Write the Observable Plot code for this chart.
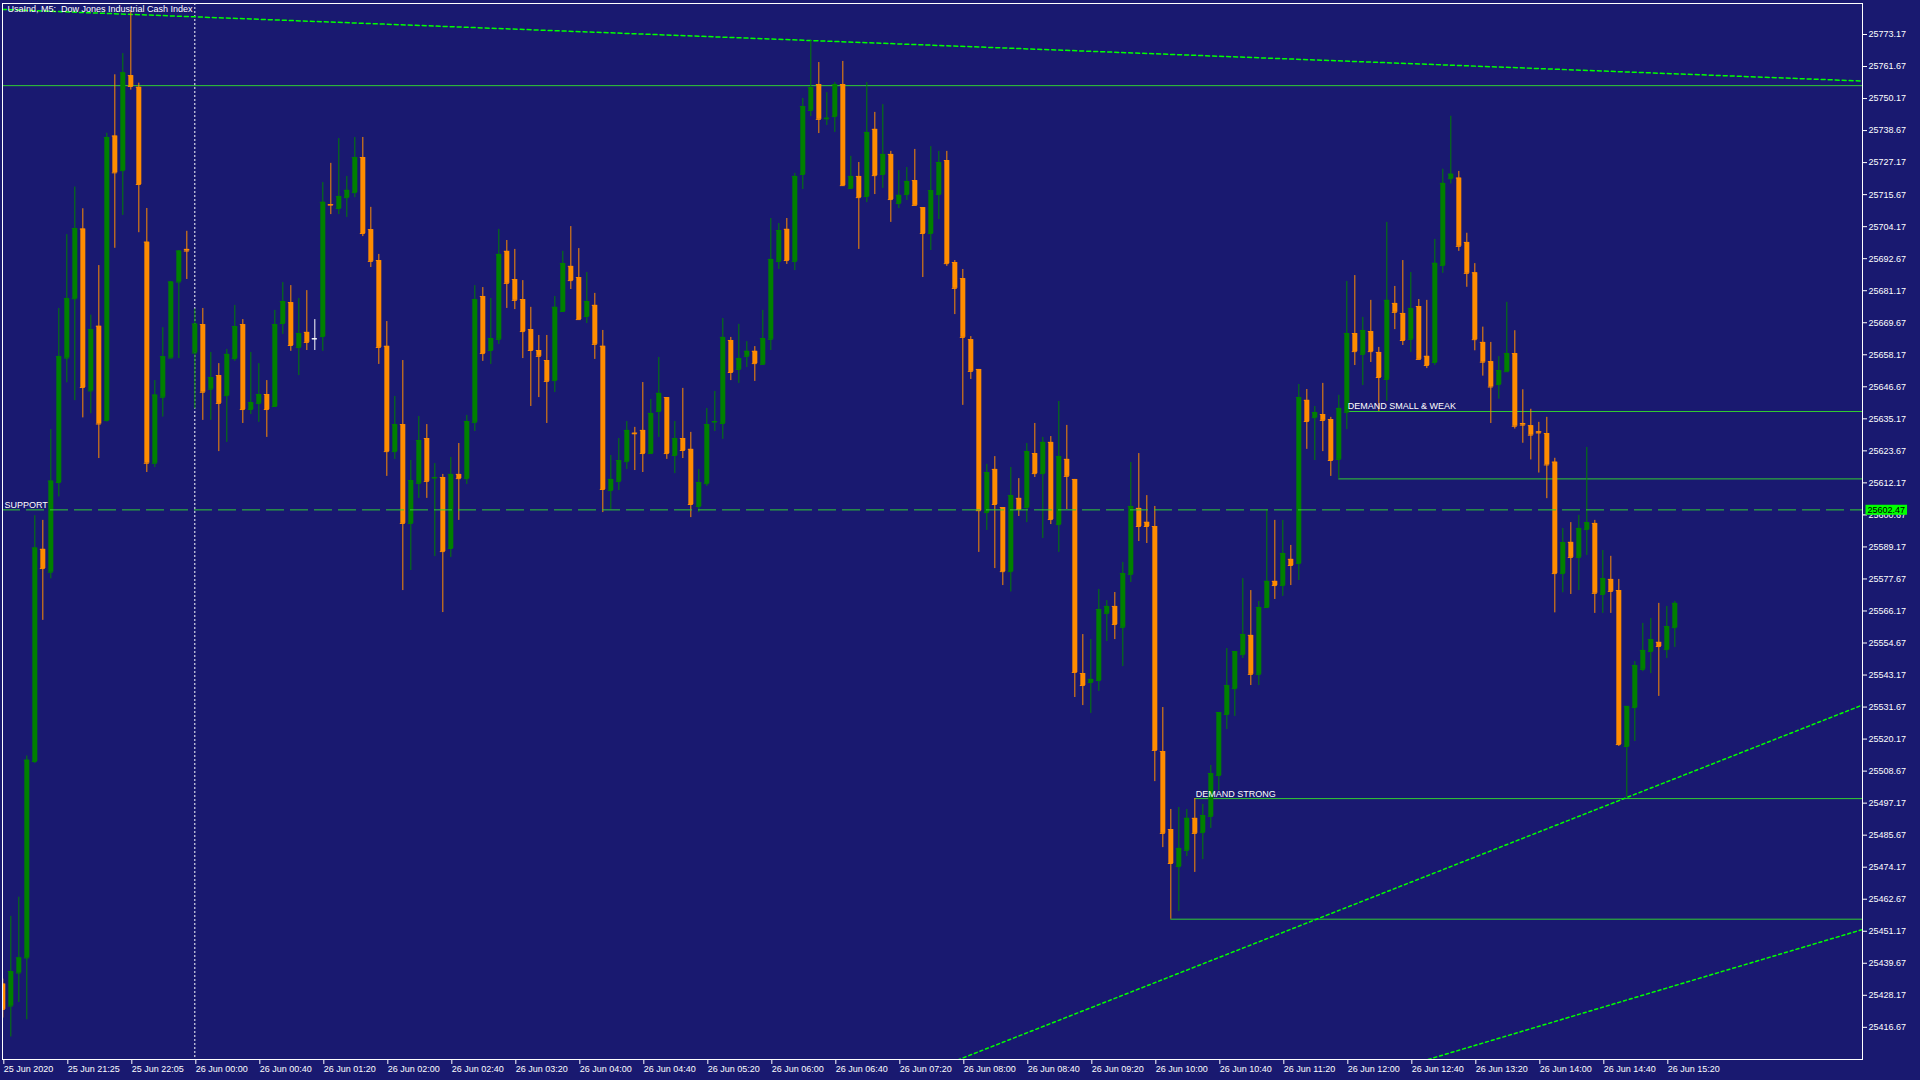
<!DOCTYPE html>
<html><head><meta charset="utf-8">
<script src="https://cdn.jsdelivr.net/npm/d3@7"></script>
<script src="https://cdn.jsdelivr.net/npm/@observablehq/plot@0.6"></script>
<style>
html,body{margin:0;padding:0;background:#191970;overflow:hidden;}
#chart svg{display:block;}
</style></head><body><div id="chart"></div>
<script>
// ---- data (M5 candles, index 0..209) ----
const opens = [25432.2,25424.3,25436.2,25441.6,25512.1,25588.3,25580.1,25612.3,25657.0,25678.3,
25703.3,25645.2,25668.4,25634.6,25736.7,25724.3,25758.4,25754.2,25698.6,25619.2,
25642.9,25657.0,25684.3,25696.0,25658.8,25669.0,25645.8,25650.7,25643.5,25656.8,
25669.0,25638.5,25640.7,25643.9,25639.6,25669.4,25676.9,25660.8,25666.2,25663.9,
25664.7,25712.1,25710.7,25714.6,25716.4,25729.0,25703.1,25692.0,25661.2,25623.4,
25633.1,25597.6,25612.0,25628.1,25613.9,25614.1,25588.6,25615.2,25613.7,25633.9,
25679.1,25659.7,25663.7,25695.3,25685.2,25678.0,25667.2,25659.7,25656.1,25648.9,
25673.7,25689.9,25685.9,25671.9,25675.9,25661.2,25609.4,25612.7,25619.8,25630.0,
25631.0,25622.7,25637.8,25642.8,25622.0,25628.1,25624.2,25603.7,25611.9,25634.0,
25633.5,25663.3,25652.9,25657.6,25659.4,25654.7,25663.7,25691.7,25703.2,25691.7,
25722.9,25745.9,25755.2,25742.9,25743.7,25755.2,25717.9,25722.2,25715.0,25739.1,
25722.9,25730.1,25712.5,25715.7,25720.7,25711.0,25701.7,25715.7,25727.9,25691.3,
25685.5,25663.6,25652.9,25601.5,25617.0,25603.3,25580.3,25606.6,25603.3,25622.7,
25615.5,25626.7,25597.2,25620.6,25613.4,25543.7,25540.5,25541.2,25565.3,25567.8,
25560.3,25579.3,25603.0,25598.0,25596.5,25515.7,25487.7,25474.4,25480.2,25491.7,
25486.6,25492.4,25507.1,25529.0,25538.3,25550.5,25557.4,25543.4,25567.4,25576.8,
25575.3,25584.7,25583.2,25641.8,25635.6,25636.7,25634.9,25620.6,25637.5,25665.8,
25658.3,25666.5,25659.0,25649.3,25676.6,25673.0,25663.7,25675.5,25657.6,25655.4,
25690.2,25721.4,25721.6,25698.5,25687.6,25662.6,25655.7,25647.5,25652.1,25658.6,
25633.5,25632.7,25630.5,25629.9,25619.6,25579.6,25590.8,25585.4,25595.4,25597.6,
25572.1,25577.5,25573.5,25517.5,25531.5,25545.2,25551.6,25554.9,25552.3,25560.2];
const highs = [25434.0,25456.5,25463.4,25514.1,25600.4,25598.7,25631.3,25674.8,25701.3,25718.4,
25710.6,25672.4,25690.2,25737.7,25758.7,25766.3,25781.7,25755.7,25710.7,25648.9,
25667.9,25684.5,25695.6,25702.5,25674.6,25674.8,25659.0,25655.0,25660.1,25675.9,
25670.8,25659.0,25655.0,25648.9,25674.1,25684.1,25683.0,25678.4,25681.2,25670.8,
25720.0,25726.9,25735.8,25722.2,25736.2,25736.2,25711.1,25694.2,25670.1,25643.2,
25656.1,25620.2,25636.0,25633.1,25619.1,25615.2,25621.3,25626.3,25636.4,25683.0,
25682.3,25678.4,25703.2,25699.2,25696.0,25684.8,25675.2,25665.1,25665.1,25679.1,
25695.3,25704.2,25696.3,25687.7,25680.2,25666.9,25622.0,25628.1,25634.2,25632.1,
25648.2,25642.1,25657.2,25642.8,25634.2,25646.1,25630.3,25617.0,25638.9,25645.0,
25671.2,25664.4,25669.1,25662.9,25661.1,25674.1,25707.1,25705.3,25707.1,25723.3,
25750.2,25771.0,25763.1,25752.3,25755.9,25763.5,25729.4,25727.2,25755.9,25745.2,
25748.0,25731.2,25724.3,25725.4,25731.9,25711.0,25732.9,25731.2,25731.2,25692.0,
25688.8,25664.7,25652.9,25618.8,25621.6,25603.3,25617.7,25613.7,25626.3,25633.5,
25628.5,25628.8,25641.4,25632.8,25613.4,25557.7,25555.9,25573.9,25569.9,25572.8,
25583.6,25619.5,25622.7,25607.6,25603.7,25531.5,25494.9,25495.6,25494.9,25498.8,
25496.7,25510.7,25529.7,25552.7,25551.6,25577.8,25573.5,25569.6,25602.6,25598.7,
25598.7,25589.7,25647.5,25645.7,25639.6,25647.9,25635.7,25643.6,25684.5,25686.6,
25671.6,25677.7,25660.8,25705.7,25682.7,25692.0,25687.7,25678.0,25677.7,25699.6,
25724.8,25743.8,25724.0,25701.8,25690.9,25668.1,25662.6,25657.5,25677.0,25666.8,
25645.6,25638.6,25633.9,25635.7,25621.0,25595.8,25597.9,25600.5,25624.9,25598.7,
25587.9,25585.8,25577.5,25531.9,25548.0,25561.7,25563.5,25568.9,25567.8,25569.6];
const lows = [25420.0,25413.2,25425.6,25419.4,25511.4,25562.8,25577.7,25607.1,25648.1,25641.7,
25635.5,25637.0,25620.9,25634.0,25696.4,25708.2,25753.2,25702.0,25615.9,25617.7,
25635.8,25657.0,25656.8,25685.2,25638.7,25634.6,25634.6,25623.4,25626.7,25655.8,
25633.5,25636.7,25633.9,25628.5,25639.6,25665.5,25659.4,25650.7,25659.7,25659.7,
25659.4,25708.5,25708.5,25707.5,25714.6,25700.6,25689.5,25654.7,25614.5,25620.6,
25573.5,25580.7,25606.6,25606.6,25585.7,25565.6,25585.4,25598.7,25611.6,25630.6,
25655.8,25654.7,25661.9,25674.8,25674.4,25656.8,25639.6,25642.8,25633.5,25644.6,
25673.7,25681.6,25670.8,25669.4,25656.5,25601.5,25602.6,25609.4,25617.0,25616.6,
25615.9,25622.7,25628.5,25620.6,25615.5,25620.9,25599.7,25601.5,25610.9,25630.6,
25627.8,25648.9,25647.9,25653.6,25648.6,25654.7,25659.7,25688.8,25690.6,25688.4,
25717.5,25743.7,25737.6,25740.5,25738.0,25718.6,25717.5,25696.0,25712.8,25715.7,
25717.9,25705.7,25710.7,25713.6,25711.8,25685.9,25695.6,25706.7,25689.9,25672.6,
25640.0,25649.3,25587.2,25595.1,25581.4,25575.3,25573.0,25600.1,25597.9,25614.1,
25592.2,25597.2,25587.2,25602.6,25535.1,25532.2,25529.4,25537.3,25555.2,25555.9,
25546.2,25576.4,25591.1,25590.4,25504.9,25481.2,25455.5,25458.3,25478.0,25472.3,
25476.9,25488.1,25501.7,25523.6,25528.3,25549.1,25539.4,25539.4,25567.1,25570.3,
25571.4,25575.3,25577.1,25624.2,25620.2,25623.4,25614.5,25613.6,25631.3,25654.3,
25647.1,25655.4,25637.8,25641.4,25667.2,25661.5,25659.0,25656.5,25653.2,25654.3,
25687.4,25719.5,25695.3,25682.4,25659.6,25650.5,25633.5,25642.2,25652.1,25631.5,
25626.4,25620.4,25615.7,25606.5,25565.5,25572.7,25572.1,25573.5,25586.1,25565.3,
25565.3,25565.3,25517.5,25499.2,25519.3,25544.4,25543.7,25535.5,25549.1,25553.1];
const closes = [25423.1,25436.7,25441.6,25512.6,25588.8,25581.4,25612.8,25657.5,25678.3,25703.5,
25646.4,25667.2,25633.3,25736.2,25723.5,25759.4,25754.5,25719.3,25619.2,25643.7,
25657.5,25684.3,25695.4,25695.4,25669.2,25644.7,25650.0,25640.7,25658.3,25668.3,
25638.5,25641.0,25643.9,25638.5,25669.0,25677.3,25661.5,25665.8,25662.6,25663.9,
25712.9,25711.9,25715.0,25717.2,25729.0,25701.7,25691.7,25660.8,25623.4,25633.1,
25597.6,25613.0,25627.4,25612.7,25614.1,25587.5,25615.2,25613.7,25634.2,25678.0,
25658.6,25664.0,25694.2,25683.8,25677.7,25666.5,25659.7,25657.6,25648.6,25675.2,
25690.9,25684.8,25670.8,25677.3,25661.9,25609.8,25613.4,25620.2,25631.0,25629.8,
25622.7,25637.1,25644.3,25622.7,25628.1,25623.8,25604.4,25612.3,25633.1,25634.2,
25664.4,25651.8,25656.8,25659.4,25655.0,25664.0,25692.4,25702.8,25692.0,25722.2,
25747.3,25754.1,25742.7,25743.1,25755.2,25718.9,25722.2,25714.6,25738.0,25722.5,
25730.1,25713.9,25715.4,25720.4,25711.8,25701.7,25717.1,25727.2,25690.9,25682.0,
25664.4,25652.2,25602.2,25615.9,25604.4,25580.3,25607.6,25602.6,25623.4,25615.5,
25626.7,25599.0,25621.6,25614.5,25544.1,25539.4,25541.6,25566.7,25567.8,25561.3,
25579.6,25603.7,25596.5,25596.5,25516.1,25486.3,25475.5,25480.9,25491.7,25486.3,
25492.7,25507.8,25529.7,25539.4,25551.6,25557.7,25543.4,25567.4,25576.8,25575.3,
25586.8,25582.5,25642.8,25634.2,25637.4,25634.6,25620.2,25638.9,25665.8,25659.3,
25666.9,25659.3,25650.0,25677.7,25673.4,25663.3,25674.8,25656.5,25654.3,25691.0,
25719.7,25723.0,25697.1,25687.4,25663.6,25655.5,25646.6,25652.5,25658.6,25632.5,
25632.9,25629.3,25630.1,25618.6,25579.6,25590.7,25585.4,25595.8,25597.9,25572.5,
25577.8,25573.2,25518.2,25531.9,25546.6,25552.0,25555.9,25553.4,25560.6,25568.9];

// axis ticks
const yTicks = d3.range(32).map(k => +(25416.67 + 11.5 * k).toFixed(2));
const xTickIndex = d3.range(27).map(k => k * 8);
const xTickLabels = ["25 Jun 2020","25 Jun 21:25","25 Jun 22:05","26 Jun 00:00","26 Jun 00:40","26 Jun 01:20",
"26 Jun 02:00","26 Jun 02:40","26 Jun 03:20","26 Jun 04:00","26 Jun 04:40","26 Jun 05:20","26 Jun 06:00",
"26 Jun 06:40","26 Jun 07:20","26 Jun 08:00","26 Jun 08:40","26 Jun 09:20","26 Jun 10:00","26 Jun 10:40",
"26 Jun 11:20","26 Jun 12:00","26 Jun 12:40","26 Jun 13:20","26 Jun 14:00","26 Jun 14:40","26 Jun 15:20"];

// drawing objects
const title = "UsaInd, M5:  Dow Jones Industrial Cash Index";
const daySeparator = [24];
const resistancePrice = [25754.8];
const supportPrice = [25602.47];
const supportLabel = ["SUPPORT"];
const zoneNames = ["DEMAND SMALL & WEAK", "DEMAND STRONG"];
const zoneTop = [25637.8, 25498.8];
const zoneTopStart = [168, 149];
const zoneBottom = [25613.6, 25455.5];
const zoneBottomStart = [167, 146];
const trendTopIdx = [16, 101],  trendTopPrice = [25780.4, 25771.0];
const trendAIdx = [203, 232.46], trendAPrice = [25499.2, 25532.4];
const trendBIdx = [178.0, 232.46], trendBPrice = [25405.0, 25451.8];

// ---- chart ----
const BG = "#191970", UP = "#008000", DOWN = "#ff8c00", DOJI = "#ffffff";
const LINE = "#32cd32", BRIGHT = "#00ff00";
const xDomain = [-0.041, 232.46];
const yDomain = [25405.12, 25784.30];
const halfBody = 0.3125;

const candles = opens.map((o, i) => ({i, o, h: highs[i], l: lows[i], c: closes[i]}));
const col = d => d.c > d.o ? UP : d.c < d.o ? DOWN : DOJI;
const zones = zoneNames.map((name, k) => ({name, top: zoneTop[k], ts: zoneTopStart[k], bot: zoneBottom[k], bs: zoneBottomStart[k]}));
function extend(idx, pr) {
  const s = (pr[1] - pr[0]) / (idx[1] - idx[0]);
  return xDomain.map(x => ({x, y: pr[0] + s * (x - idx[0])}));
}
const tickLabelMap = new Map(xTickIndex.map((v, k) => [v, xTickLabels[k]]));
const priceText = supportPrice[0].toFixed(2);

const chart = Plot.plot({
  width: 1920, height: 1080,
  marginLeft: 2, marginRight: 58, marginTop: 3, marginBottom: 21,
  style: {background: BG, color: "white", fontFamily: "'Liberation Sans', Arial, sans-serif", fontSize: "9px"},
  x: {type: "linear", domain: xDomain, axis: null},
  y: {type: "linear", domain: yDomain, axis: null},
  marks: [
    Plot.ruleX(daySeparator, {x: d => d, stroke: "white", strokeDasharray: "2,2"}),
    Plot.ruleY(resistancePrice, {y: d => d, stroke: LINE}),
    Plot.ruleY(zones, {y: "top", x1: "ts", x2: () => xDomain[1], stroke: LINE}),
    Plot.ruleY(zones, {y: "bot", x1: "bs", x2: () => xDomain[1], stroke: LINE}),
    Plot.line(extend(trendTopIdx, trendTopPrice), {x: "x", y: "y", stroke: BRIGHT, strokeDasharray: "4,3", clip: true}),
    Plot.line(extend(trendAIdx, trendAPrice), {x: "x", y: "y", stroke: BRIGHT, strokeDasharray: "3,3", clip: true}),
    Plot.line(extend(trendBIdx, trendBPrice), {x: "x", y: "y", stroke: BRIGHT, strokeDasharray: "3,3", clip: true}),
    // candles
    Plot.ruleX(candles, {x: "i", y1: "l", y2: "h", stroke: col, clip: true}),
    Plot.ruleX(candles, {x: "i", y1: "o", y2: "c", stroke: col, strokeWidth: 5, clip: true}),
    Plot.ruleY(candles, {y: "c", x1: d => d.i - halfBody, x2: d => d.i + halfBody, stroke: col, clip: true}),
    Plot.ruleY(candles, {y: "o", x1: d => d.i - halfBody, x2: d => d.i + halfBody, stroke: col, clip: true}),
    // support line on top
    Plot.ruleY(supportPrice, {y: d => d, stroke: LINE, strokeDasharray: "18,6"}),
    // texts
    Plot.text(supportLabel, {x: () => xDomain[0], y: () => supportPrice[0], text: d => d, textAnchor: "start", lineAnchor: "bottom", dx: 2, dy: -2, fill: "white", fontSize: 9}),
    Plot.text(zones, {x: "ts", y: "top", text: "name", textAnchor: "start", lineAnchor: "bottom", dx: 1, dy: -2, fill: "white", fontSize: 9}),
    Plot.text([title], {frameAnchor: "top-left", text: d => d, textAnchor: "start", lineAnchor: "top", dx: 5, dy: 2, fill: "white", fontSize: 9}),
    // axes
    Plot.axisY(yTicks, {anchor: "right", tickSize: 4, tickPadding: 2, tickFormat: d => d.toFixed(2), stroke: "white", fill: "white", fontSize: 9}),
    Plot.axisX(xTickIndex, {anchor: "bottom", tickSize: 5, tickPadding: 1, tickFormat: d => tickLabelMap.get(d), textAnchor: "start", dx: 1, stroke: "white", fill: "white", fontSize: 9}),
    Plot.text(supportPrice, {y: d => d, frameAnchor: "right", text: d => d.toFixed(2), textAnchor: "start", dx: 5, fill: "black", fontSize: 9}),
    Plot.frame({stroke: "white"})
  ]
});
document.getElementById("chart").append(chart);

// green background box behind the support price label (the black text)
const svg = chart.tagName.toLowerCase() === "svg" ? chart : chart.querySelector("svg");
const labelTexts = Array.from(svg.querySelectorAll("text")).filter(t => t.textContent.trim() === priceText);
const target = labelTexts[labelTexts.length - 1];
if (target) {
  let b;
  try { b = target.getBBox(); } catch (e) { b = null; }
  const r = document.createElementNS("http://www.w3.org/2000/svg", "rect");
  const w = b && b.width > 0 ? b.width : 37;
  const h = b && b.height > 0 ? b.height : 10;
  const x = b && b.width > 0 ? b.x : 0;
  const y = b && b.height > 0 ? b.y : -5;
  r.setAttribute("x", x - 2);
  r.setAttribute("y", y);
  r.setAttribute("width", w + 4);
  r.setAttribute("height", h);
  r.setAttribute("fill", BRIGHT);
  r.setAttribute("stroke", "none");
  ["transform", "x", "y"].forEach(a => {
    if (a === "transform" && target.getAttribute(a)) r.setAttribute(a, target.getAttribute(a));
  });
  target.parentNode.insertBefore(r, target);
}
</script>
</body></html>
